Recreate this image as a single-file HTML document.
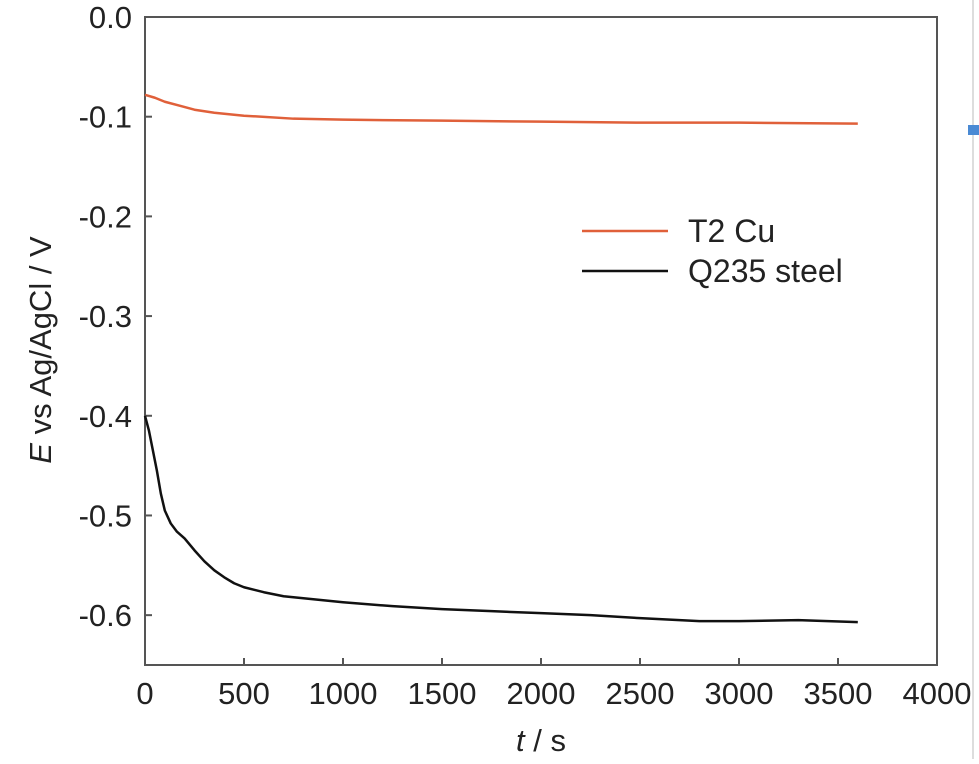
<!DOCTYPE html>
<html><head><meta charset="utf-8"><style>
body{margin:0;background:#fff;width:979px;height:759px;overflow:hidden}
svg text{font-family:"Liberation Sans",Arial,sans-serif;fill:#222}
</style></head><body>
<svg id="chart" width="979" height="759" xmlns="http://www.w3.org/2000/svg">
<g id="scroll">
<line x1="973" y1="0" x2="973" y2="759" stroke="#ddd" stroke-width="2"/>
<rect x="968" y="125" width="11" height="10" fill="#4a8ad4"/>
</g>
<g id="plot"></g>
</svg>
<script>
const xTicks=[0,500,1000,1500,2000,2500,3000,3500,4000];
const yTicks=[0,-0.1,-0.2,-0.3,-0.4,-0.5,-0.6];
const yTickLabels=["0.0","-0.1","-0.2","-0.3","-0.4","-0.5","-0.6"];
const cuT=[0,50,100,175,250,350,500,750,1000,1500,2000,2500,3000,3600];
const cuE=[-0.078,-0.081,-0.085,-0.089,-0.093,-0.096,-0.099,-0.102,-0.103,-0.104,-0.105,-0.106,-0.106,-0.107];
const stT=[0,20,40,60,80,100,130,160,200,250,300,350,400,450,500,600,700,850,1000,1250,1500,1750,2000,2250,2500,2800,3000,3300,3600];
const stE=[-0.40,-0.415,-0.435,-0.455,-0.478,-0.495,-0.508,-0.516,-0.523,-0.535,-0.546,-0.555,-0.562,-0.568,-0.572,-0.577,-0.581,-0.584,-0.587,-0.591,-0.594,-0.596,-0.598,-0.600,-0.603,-0.606,-0.606,-0.605,-0.607];
const ns="http://www.w3.org/2000/svg";
const L=145,R=937,T=17,B=665;
const xs=v=>L+(v-0)/4000*(R-L);
const ys=v=>T+(0-v)/0.65*(B-T);
const g=document.getElementById('plot');
function mk(t,a){const e=document.createElementNS(ns,t);for(const k in a)e.setAttribute(k,a[k]);g.appendChild(e);return e;}
const box=mk('rect',{x:L,y:T,width:R-L,height:B-T,fill:'none',stroke:'#555','stroke-width':2});


xTicks.forEach(v=>{
 const tk=mk('line',{x1:xs(v),x2:xs(v),y1:B,y2:B-7,stroke:'#555','stroke-width':2});
 
 
 const t=mk('text',{x:xs(v),y:B+39,'text-anchor':'middle','font-size':31});
 t.textContent=v;
 
 
});
yTicks.forEach((v,i)=>{
 const tk=mk('line',{x1:L,x2:L+7,y1:ys(v),y2:ys(v),stroke:'#555','stroke-width':2});
 
 
 const t=mk('text',{x:L-13,y:ys(v)+11,'text-anchor':'end','font-size':31});
 t.textContent=yTickLabels[i];
 
 
});
function series(ts,es,color,name){
 const p=mk('polyline',{points:ts.map((t,i)=>xs(t)+','+ys(es[i])).join(' '),fill:'none',stroke:color,'stroke-width':2.5,'stroke-linejoin':'round'});
 
 
}
series(cuT,cuE,'#e0603a','t2-cu-line');
series(stT,stE,'#111','q235-steel-line');
const xt=mk('text',{x:541,y:751,'text-anchor':'middle','font-size':31});
xt.innerHTML='<tspan font-style="italic">t</tspan> / s';


const yt=mk('text',{x:0,y:0,'text-anchor':'middle','font-size':31,transform:'translate(51,350) rotate(-90)'});
yt.innerHTML='<tspan font-style="italic">E</tspan> vs Ag/AgCl / V';


[['#e0603a','T2 Cu',231,'legend-entry-t2-cu'],['#111','Q235 steel',271,'legend-entry-q235-steel']].forEach(d=>{
 const l=mk('line',{x1:582,x2:668,y1:d[2],y2:d[2],stroke:d[0],'stroke-width':2.5});
 
 
 const t=mk('text',{x:688,y:d[2]+11,'font-size':32});
 t.textContent=d[1];
 
 
});
</script>
</body></html>
